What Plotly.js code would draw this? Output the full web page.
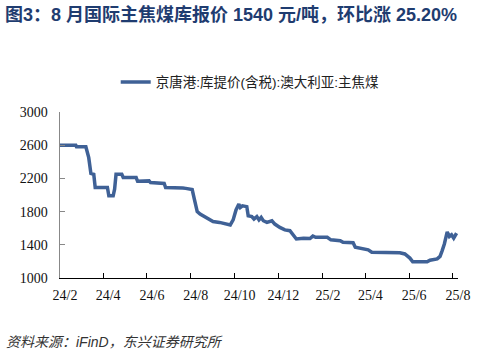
<!DOCTYPE html>
<html>
<head>
<meta charset="utf-8">
<script src="https://cdn.plot.ly/plotly-3.0.1.min.js"></script>
<style>
html,body{margin:0;padding:0;background:#fff;}
#chart{width:480px;height:357px;}
</style>
</head>
<body>
<div id="chart"></div>
<script>
var seriesName = "京唐港:库提价(含税):澳大利亚:主焦煤";
var dates = [
"2024-02-01","2024-02-23","2024-02-24","2024-03-08","2024-03-12","2024-03-15","2024-03-19","2024-03-21",
"2024-04-07","2024-04-09","2024-04-15","2024-04-17","2024-04-19","2024-04-27","2024-04-29","2024-05-17",
"2024-05-19","2024-06-04","2024-06-06","2024-06-12","2024-06-14","2024-06-25","2024-06-27","2024-07-10",
"2024-07-12","2024-07-21","2024-07-25","2024-08-03","2024-08-06","2024-08-10","2024-08-14","2024-08-20",
"2024-08-28","2024-09-01","2024-09-10","2024-09-18","2024-09-25","2024-09-29","2024-10-03","2024-10-07",
"2024-10-09","2024-10-12","2024-10-18","2024-10-20","2024-10-25","2024-10-28","2024-11-01","2024-11-04",
"2024-11-07","2024-11-10","2024-11-15","2024-11-22","2024-11-26","2024-12-03","2024-12-10","2024-12-17",
"2024-12-21","2024-12-26","2025-01-05","2025-01-14","2025-01-18","2025-01-22","2025-02-07","2025-02-12",
"2025-02-25","2025-03-01","2025-03-15","2025-03-18","2025-04-05","2025-04-10","2025-05-19","2025-05-26",
"2025-06-02","2025-06-06","2025-06-26","2025-06-30","2025-07-10","2025-07-14","2025-07-17","2025-07-20",
"2025-07-24","2025-07-27","2025-07-30","2025-08-02","2025-08-06"
];
var prices = [
2600,2600,2580,2580,2450,2260,2250,2090,
2090,1990,1990,2070,2250,2250,2210,2210,
2165,2170,2150,2150,2140,2140,2090,2090,
2095,2085,2080,2065,1950,1800,1770,1740,
1700,1680,1670,1650,1640,1700,1820,1890,
1850,1870,1860,1750,1740,1710,1740,1700,
1730,1690,1670,1690,1650,1610,1580,1570,
1530,1470,1480,1475,1505,1490,1490,1460,
1450,1430,1425,1370,1340,1310,1305,1290,
1240,1195,1195,1215,1230,1260,1330,1410,
1555,1500,1520,1480,1540
];
var xTickVals = ["2024-02-01","2024-04-01","2024-06-01","2024-08-01","2024-10-01","2024-12-01","2025-02-01","2025-04-01","2025-06-01","2025-08-01"];
var xTickText = ["24/2","24/4","24/6","24/8","24/10","24/12","25/2","25/4","25/6","25/8"];
var yTickVals = [1000,1400,1800,2200,2600,3000];

var serif = "'Liberation Serif', 'Times New Roman', serif";
var sans = "'Liberation Sans', 'Noto Sans CJK SC', sans-serif";

var trace = {
  x: dates, y: prices, type: "scatter", mode: "lines", name: seriesName,
  line: {color: "#3F6196", width: 3.5}
};

var layout = {
  width: 480, height: 357,
  margin: {l: 60, r: 22, t: 112, b: 79},
  paper_bgcolor: "#fff", plot_bgcolor: "#fff",
  showlegend: true,
  legend: {
    orientation: "h", x: 0.14, xanchor: "left", y: 1.18, yanchor: "middle",
    font: {family: sans, size: 13.5, color: "#222"},
    bgcolor: "rgba(0,0,0,0)"
  },
  xaxis: {
    type: "date", range: ["2024-02-01", "2025-08-08"],
    tickvals: xTickVals, ticktext: xTickText,
    ticks: "inside", ticklen: 5, tickcolor: "#000", tickwidth: 1,
    showline: true, linecolor: "#000", linewidth: 1.2,
    showgrid: false, zeroline: false,
    ticklabelshift: 5, ticklabelstandoff: 4,
    tickfont: {family: serif, size: 14, color: "#111"}
  },
  yaxis: {
    range: [1000, 3000], tickvals: yTickVals,
    ticks: "inside", ticklen: 5, tickcolor: "#888", tickwidth: 1,
    showline: true, linecolor: "#888", linewidth: 1.5,
    showgrid: false, zeroline: false,
    ticklabelstandoff: 8,
    tickfont: {family: serif, size: 14, color: "#111"}
  },
  annotations: [
    {xref: "paper", yref: "paper", x: -57/398, y: 1 + 97/166, xanchor: "left", yanchor: "middle",
     showarrow: false, align: "left",
     text: "<b>图3：8 月国际主焦煤库报价 1540 元/吨，环比涨 25.20%</b>",
     font: {family: sans, size: 18, color: "#1F3C70"}},
    {xref: "paper", yref: "paper", x: -56/398, y: -64/166, xanchor: "left", yanchor: "middle",
     showarrow: false, align: "left",
     text: "<i>资料来源：iFinD，东兴证券研究所</i>",
     font: {family: sans, size: 14, color: "#333"}}
  ]
};

Plotly.newPlot("chart", [trace], layout, {displayModeBar: false, staticPlot: true});
</script>
</body>
</html>
